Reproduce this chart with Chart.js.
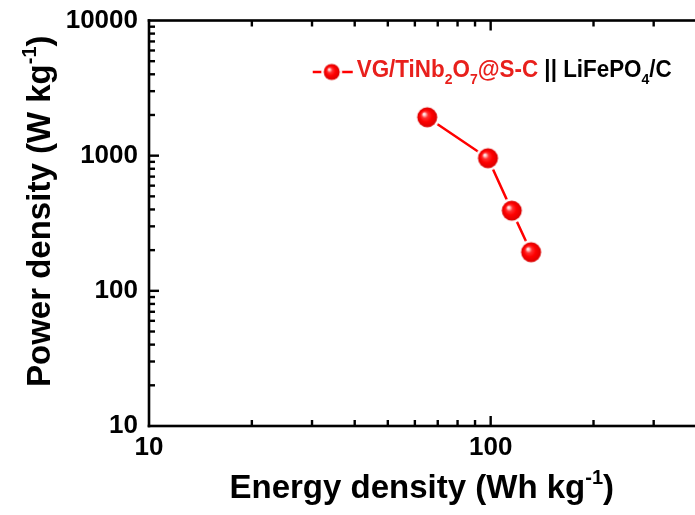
<!DOCTYPE html>
<html>
<head>
<meta charset="utf-8">
<script src="https://cdn.jsdelivr.net/npm/chart.js@4.4.0/dist/chart.umd.min.js"></script>
<style>
html,body{margin:0;padding:0;background:#fff;}
canvas{display:block;}
</style>
</head>
<body>
<canvas id="c" width="695" height="515"></canvas>
<script>
// ---- data ----
const energyDensity = [65.2, 98.2, 115.3, 131.3];      // Wh kg-1
const powerDensity  = [1923, 957, 392, 193];           // W kg-1
const xTickValues = [10, 100];
const yTickValues = [10, 100, 1000, 10000];
const xRange = [10, 395];
const yRange = [10, 10000];
const seriesName = 'VG/TiNb2O7@S-C || LiFePO4/C';
const legendParts = ['VG/TiNb', '2', 'O', '7', '@S-C', ' || LiFePO', '4', '/C'];
const legendSub   = [false, true, false, true, false, false, true, false];
const legendRed   = [true, true, true, true, true, false, false, false];
const xTitleParts = ['Energy density (Wh kg', '-1', ')'];
const yTitleParts = ['Power density (W kg', '-1', ')'];
const titleSup    = [false, true, false];

// ---- styles ----
const RED = '#ff0000';
const TEXT_RED = '#e8201c';
const FONT = '"Liberation Sans", Arial, Helvetica, sans-serif';

function makeSphere(r, ring) {
  const s = Math.ceil(2 * (r + ring)) + 2;
  const c = document.createElement('canvas');
  c.width = s; c.height = s;
  const g = c.getContext('2d');
  const cx = s / 2, cy = s / 2;
  g.fillStyle = '#ffffff';
  g.beginPath(); g.arc(cx, cy, r + ring, 0, Math.PI * 2); g.fill();
  const grad = g.createRadialGradient(cx - r * 0.35, cy - r * 0.35, 0, cx, cy, r);
  grad.addColorStop(0, '#ffffff');
  grad.addColorStop(0.12, '#ffd0d0');
  grad.addColorStop(0.32, '#ff3030');
  grad.addColorStop(0.6, '#ff0000');
  grad.addColorStop(1, '#d80000');
  g.fillStyle = grad;
  g.beginPath(); g.arc(cx, cy, r, 0, Math.PI * 2); g.fill();
  return c;
}
const sphereBig = makeSphere(10, 2.5);
const sphereSmall = makeSphere(8, 2.5);

function drawRich(ctx, parts, flags, x, y, size, color, align, subMode) {
  const small = Math.round(size * 0.62);
  const widths = parts.map((p, i) => {
    ctx.font = 'bold ' + (flags[i] ? small : size) + 'px ' + FONT;
    return ctx.measureText(p).width;
  });
  const total = widths.reduce((a, b) => a + b, 0);
  let cx = align === 'center' ? x - total / 2 : x;
  parts.forEach((p, i) => {
    ctx.font = 'bold ' + (flags[i] ? small : size) + 'px ' + FONT;
    ctx.fillStyle = Array.isArray(color) ? color[i] : color;
    let dy = 0;
    if (flags[i]) dy = subMode ? size * 0.3 : -size * 0.42;
    ctx.fillText(p, cx, y + dy);
    cx += widths[i];
  });
  return total;
}

function drawTicks(chart) {
  const ctx = chart.ctx;
  const a = chart.chartArea;
  const xs = chart.scales.x, ys = chart.scales.y;
  ctx.save();
  ctx.fillStyle = 'black';
  const tw = 2.4;
  const decades = [1, 10, 100, 1000, 10000];
  for (let di = 0; di < decades.length; di++) {
    const d = decades[di];
    for (let k = 1; k <= 9; k++) {
      const v = k * d;
      const len = (k === 1) ? 10 : 6;
      if (v > xRange[0] && v <= xRange[1]) {
        const px = xs.getPixelForValue(v);
        ctx.fillRect(px - tw / 2, a.bottom - len, tw, len);
        ctx.fillRect(px - tw / 2, a.top, tw, len);
      }
      if (v > yRange[0] && v < yRange[1]) {
        const py = ys.getPixelForValue(v);
        ctx.fillRect(a.left, py - tw / 2, len, tw);
      }
    }
  }
  ctx.restore();
}

const decorPlugin = {
  id: 'decor',
  afterDraw(chart) {
    const ctx = chart.ctx;
    const a = chart.chartArea;
    ctx.save();
    ctx.fillStyle = '#000';
    const lw = 2.6;
    ctx.fillRect(a.left - lw / 2, a.top - lw / 2, lw, a.bottom - a.top + lw);
    ctx.fillRect(a.left - lw / 2, a.bottom - lw / 2, chart.width - a.left + lw, lw);
    ctx.fillRect(a.left - lw / 2, a.top - lw / 2, chart.width - a.left + lw, lw);
    ctx.restore();

    drawTicks(chart);

    ctx.save();
    ctx.textBaseline = 'alphabetic';
    ctx.textAlign = 'left';
    drawRich(ctx, xTitleParts, titleSup, (a.left + a.right) / 2, 498, 33, '#000', 'center', false);
    ctx.save();
    ctx.translate(50, (a.top + a.bottom) / 2 - 12);
    ctx.rotate(-Math.PI / 2);
    drawRich(ctx, yTitleParts, titleSup, 0, 0, 33, '#000', 'center', false);
    ctx.restore();

    const lx = a.left + (a.right - a.left) * 0.335;
    const ly = a.top + (a.bottom - a.top) * 0.127;
    ctx.fillStyle = RED;
    ctx.fillRect(lx - 19, ly - 1.25, 40, 2.5);
    ctx.drawImage(sphereSmall, lx - sphereSmall.width / 2, ly - sphereSmall.height / 2);
    const tx = lx + 25, ty = ly + 5;
    const colors = legendRed.map(r => r ? TEXT_RED : '#000');
    const targetW = 315;
    const size = 24;
    const small = Math.round(size * 0.62);
    let total = 0;
    legendParts.forEach((p, i) => {
      ctx.font = 'bold ' + (legendSub[i] ? small : size) + 'px ' + FONT;
      total += ctx.measureText(p).width;
    });
    ctx.save();
    ctx.translate(tx, ty);
    ctx.scale(targetW / total, 1);
    drawRich(ctx, legendParts, legendSub, 0, 0, size, colors, 'left', true);
    ctx.restore();
    ctx.restore();
  }
};

new Chart(document.getElementById('c'), {
  type: 'line',
  data: {
    datasets: [{
      label: seriesName,
      data: energyDensity.map((x, i) => ({ x: x, y: powerDensity[i] })),
      borderColor: RED,
      borderWidth: 2.5,
      pointStyle: sphereBig,
      pointRadius: 0.5,
      pointHoverRadius: 0.5,
      pointBorderWidth: 0,
      showLine: true,
      fill: false,
      tension: 0,
      clip: false
    }]
  },
  options: {
    responsive: false,
    animation: false,
    devicePixelRatio: 1,
    layout: { padding: { top: 20.5, right: 0, left: 0, bottom: 0 } },
    plugins: { legend: { display: false }, tooltip: { enabled: false } },
    events: [],
    scales: {
      x: {
        type: 'logarithmic',
        min: xRange[0], max: xRange[1],
        grid: { display: false, drawTicks: false },
        border: { display: false },
        afterBuildTicks: s => { s.ticks = xTickValues.map(v => ({ value: v })); },
        afterFit: s => { s.height = 89; },
        ticks: {
          autoSkip: false, maxRotation: 0, padding: 6,
          color: '#000',
          font: { family: FONT, weight: 'bold', size: 26 },
          callback: v => String(v)
        }
      },
      y: {
        type: 'logarithmic',
        min: yRange[0], max: yRange[1],
        grid: { display: false, drawTicks: false },
        border: { display: false },
        afterBuildTicks: s => { s.ticks = yTickValues.map(v => ({ value: v })); },
        afterFit: s => { s.width = 149; },
        ticks: {
          autoSkip: false, padding: 11,
          color: '#000',
          font: { family: FONT, weight: 'bold', size: 26, lineHeight: 0.7 },
          callback: v => String(v)
        }
      }
    }
  },
  plugins: [decorPlugin]
});
</script>
</body>
</html>
